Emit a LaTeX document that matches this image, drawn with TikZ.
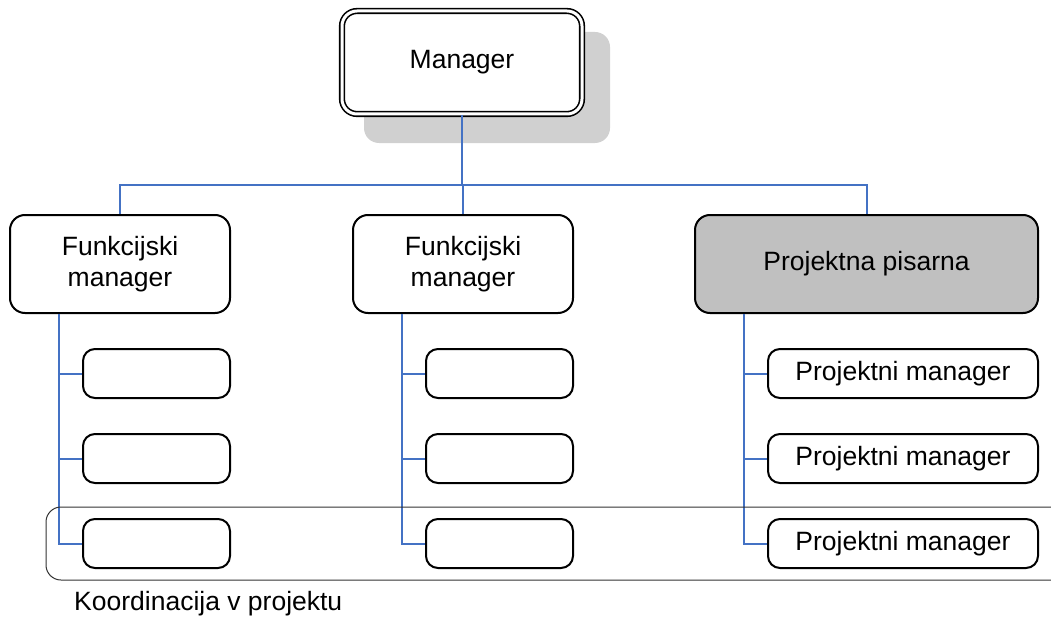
\documentclass[tikz,border=0pt]{standalone}
\usepackage{fontspec}
\setmainfont{Liberation Sans}
\usetikzlibrary{calc}
\definecolor{conn}{HTML}{4472C4}
\definecolor{pgray}{HTML}{C0C0C0}
\definecolor{sgray}{HTML}{D0D0D0}
\tikzset{
  box/.style={draw=black, line width=2pt, rounded corners=15pt, align=center, inner sep=0pt,
    font=\fontsize{26.5}{31}\selectfont},
  bigbox/.style={box, minimum width=220pt, minimum height=98pt},
  subbox/.style={box, rounded corners=12pt, minimum width=147pt, minimum height=49pt},
  pmbox/.style={box, rounded corners=12pt, minimum width=270pt, minimum height=49pt},
  link/.style={draw=conn, line width=2pt},
  lbl/.style={font=\fontsize{26.5}{31}\selectfont, inner sep=0pt}
}
\begin{document}
\begin{tikzpicture}[x=1pt,y=-1pt]
\useasboundingbox (0,0) rectangle (1051,623);
% shadow + manager
\node[fill=sgray, rounded corners=15pt, minimum width=246pt, minimum height=111pt, inner sep=0pt] (shadow) at (487,87.5) {};
\node[box, fill=white, double=white, double distance=3pt, line width=1.6pt, minimum width=240pt, minimum height=103pt] (mgr) at (462,62.5) {Manager};
% level 2
\node[bigbox] (f1) at (120,264) {Funkcijski\\manager};
\node[bigbox] (f2) at (463,264) {Funkcijski\\manager};
\node[bigbox, fill=pgray, minimum width=343pt] (pp) at (866.5,264) {Projektna pisarna};
% level 3
\node[subbox] (a1) at (156.5,373.5) {};
\node[subbox] (a2) at (156.5,458.5) {};
\node[subbox] (a3) at (156.5,543.5) {};
\node[subbox] (b1) at (499.5,373.5) {};
\node[subbox] (b2) at (499.5,458.5) {};
\node[subbox] (b3) at (499.5,543.5) {};
\node[pmbox] (c1) at (903,373.5) {Projektni manager};
\node[pmbox] (c2) at (903,458.5) {Projektni manager};
\node[pmbox] (c3) at (903,543.5) {Projektni manager};
% connectors
\coordinate (j) at (462,185);
\draw[link] (mgr.south) -- (j);
\draw[link] (j) -| (f1.north);
\draw[link] (j) -| (pp.north);
\draw[link] (j) -| (f2.north);
\coordinate (va) at ($(f1.south west)+(50,0)$);
\coordinate (vb) at ($(f2.south west)+(50,0)$);
\coordinate (vc) at ($(pp.south west)+(50,0)$);
\draw[link] (va) |- (a3.west);
\draw[link] (a1.west) -- (a1.west -| va);
\draw[link] (a2.west) -- (a2.west -| va);
\draw[link] (vb) |- (b3.west);
\draw[link] (b1.west) -- (b1.west -| vb);
\draw[link] (b2.west) -- (b2.west -| vb);
\draw[link] (vc) |- (c3.west);
\draw[link] (c1.west) -- (c1.west -| vc);
\draw[link] (c2.west) -- (c2.west -| vc);
% coordination frame
\coordinate (kt) at (1051,507);
\coordinate (kb) at (1051,580);
\draw[line width=1pt, draw=black!80, rounded corners=15pt] (kt) -- (46,507) -- (46,580) -- (kb);
\node[lbl, anchor=west] (klbl) at (74,604) {Koordinacija v projektu};
\end{tikzpicture}
\end{document}
